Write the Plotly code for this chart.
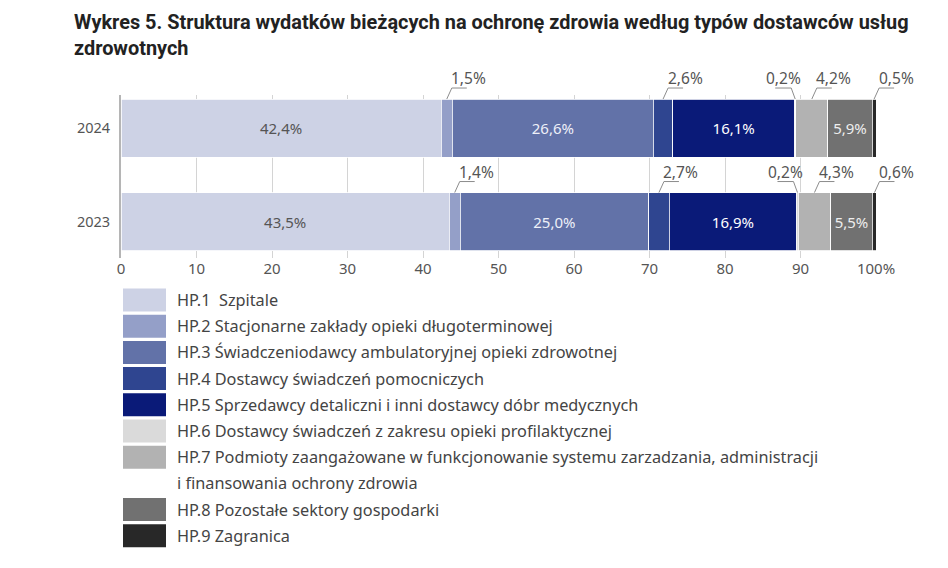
import plotly.graph_objects as go

# dane: udział w wydatkach bieżących (%), kolejność lat od dołu wykresu
years = ["2023", "2024"]
providers = [
    "HP.1  Szpitale",
    "HP.2 Stacjonarne zakłady opieki długoterminowej",
    "HP.3 Świadczeniodawcy ambulatoryjnej opieki zdrowotnej",
    "HP.4 Dostawcy świadczeń pomocniczych",
    "HP.5 Sprzedawcy detaliczni i inni dostawcy dóbr medycznych",
    "HP.6 Dostawcy świadczeń z zakresu opieki profilaktycznej",
    "HP.7 Podmioty zaangażowane w funkcjonowanie systemu zarzadzania, administracji\ni finansowania ochrony zdrowia",
    "HP.8 Pozostałe sektory gospodarki",
    "HP.9 Zagranica",
]
hp1 = [43.5, 42.4]
hp2 = [1.4, 1.5]
hp3 = [25.0, 26.6]
hp4 = [2.7, 2.6]
hp5 = [16.9, 16.1]
hp6 = [0.2, 0.2]
hp7 = [4.3, 4.2]
hp8 = [5.5, 5.9]
hp9 = [0.6, 0.5]
series = [hp1, hp2, hp3, hp4, hp5, hp6, hp7, hp8, hp9]

x_ticks = [0, 10, 20, 30, 40, 50, 60, 70, 80, 90, 100]
x_ticktext = ["0", "10", "20", "30", "40", "50", "60", "70", "80", "90", "100%"]

title_lines = [
    "Wykres 5. Struktura wydatków bieżących na ochronę zdrowia według typów dostawców usług",
    "zdrowotnych",
]

# wygląd
colors = ["#cdd2e5", "#949fc8", "#6272a8", "#2f4590", "#0a1a78",
          "#dadada", "#b2b2b2", "#717171", "#282828"]
inside = [True, False, True, False, True, False, False, True, False]
inside_color = ["#555555", None, "#eef0f8", None, "#ffffff", None, None, "#eeeeee", None]
# strona odnośnika dla małych wartości: 1 = w prawo, -1 = w lewo
side = [0, 1, 0, 1, 0, -1, 1, 0, 1]

FONT = "Noto Sans"
BAR_W = 0.62
X_RANGE = [0, 100]
Y_RANGE = [-0.39, 1.353]
# strona ma 8 px marginesu body, więc figura jest o tyle mniejsza
W, H = 940, 560
M_L, M_T, M_R = 113, 87, 72
PLOT_H = 163


def pl(v):
    return f"{v:.1f}".replace(".", ",") + "%"


def frac(v, rng):
    return (v - rng[0]) / (rng[1] - rng[0])


fig = go.Figure()
for i, vals in enumerate(series):
    fig.add_trace(go.Bar(
        y=years, x=vals, orientation="h", name=providers[i].replace("\n", " "),
        marker=dict(color=colors[i], line=dict(color="white", width=0.8)),
        width=BAR_W,
        text=[pl(v) for v in vals] if inside[i] else None,
        textposition="inside" if inside[i] else "none",
        insidetextanchor="middle",
        textangle=0,
        textfont=dict(family=FONT, size=15, color=inside_color[i] or "#555"),
        hoverinfo="x+name",
        showlegend=False,
    ))

shapes = []
annotations = []

# tytuł
for k, t in enumerate(title_lines):
    annotations.append(dict(
        x=0, y=1, xref="paper", yref="paper", text=f"<b>{t}</b>",
        xanchor="left", yanchor="middle", showarrow=False,
        xshift=-49, yshift=73 - 26 * k,
        font=dict(family="Roboto", size=19.9, color="#222222"),
    ))

# etykiety małych segmentów z odnośnikami (kształty w układzie paper, żeby nie były przycinane)
for yi, year in enumerate(years):
    left = 0.0
    for i, vals in enumerate(series):
        v = vals[yi]
        mid = left + v / 2
        left += v
        if inside[i]:
            continue
        top = yi + BAR_W / 2
        if side[i] > 0:
            path = "M0,0 L5,11 L20,11"
            dx = 22
        else:
            path = "M0,0 L-4,11 L-20,11"
            dx = -12
        shapes.append(dict(
            type="path", xref="paper", yref="paper",
            xsizemode="pixel", ysizemode="pixel",
            xanchor=frac(mid, X_RANGE), yanchor=frac(top, Y_RANGE), path=path,
            line=dict(color="#8c8c8c", width=1),
        ))
        annotations.append(dict(
            x=mid, y=top, xref="x", yref="y", text=pl(v),
            showarrow=False, xshift=dx, yshift=21,
            font=dict(family=FONT, size=15.5, color="#555555"),
        ))

# legenda rysowana ręcznie (duże prostokąty jak w oryginale)
row0 = 292 - M_T - PLOT_H  # odległość pierwszego wiersza od dołu wykresu
row_h = 26.2
row = 0
for i, name in enumerate(providers):
    yc = row0 + row * row_h
    shapes.append(dict(
        type="rect", xref="paper", yref="paper",
        xsizemode="pixel", ysizemode="pixel",
        xanchor=0, yanchor=0,
        x0=2, x1=45, y0=-yc - 11.5, y1=-yc + 11.5,
        fillcolor=colors[i], line=dict(width=0),
    ))
    for ln in name.split("\n"):
        yc = row0 + row * row_h
        annotations.append(dict(
            x=0, y=0, xref="paper", yref="paper", text=ln,
            xanchor="left", yanchor="middle", showarrow=False,
            xshift=54, yshift=-yc,
            font=dict(family=FONT, size=16.3, color="#444444"),
        ))
        row += 1

fig.update_layout(
    width=W, height=H,
    margin=dict(l=M_L, r=M_R, t=M_T, b=H - M_T - PLOT_H),
    barmode="stack",
    plot_bgcolor="white", paper_bgcolor="white",
    xaxis=dict(
        range=X_RANGE, tickvals=x_ticks, ticktext=x_ticktext,
        showgrid=True, gridcolor="#d4d4d4", gridwidth=1,
        zeroline=False, showline=False, automargin=False,
        tickfont=dict(family=FONT, size=15, color="#555555"),
        fixedrange=True,
    ),
    yaxis=dict(
        type="category", range=Y_RANGE,
        showline=True, linecolor="#b5b5b5", linewidth=2,
        ticks="", ticklabelstandoff=6, automargin=False,
        tickfont=dict(family=FONT, size=14.5, color="#555555"),
        fixedrange=True,
    ),
    shapes=shapes,
    annotations=annotations,
)

fig.write_html("out.html")
